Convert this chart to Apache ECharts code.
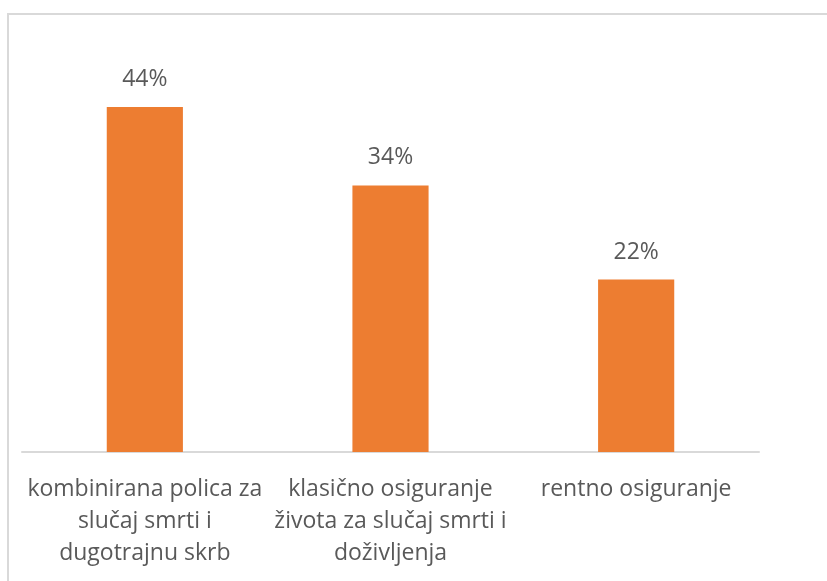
<!DOCTYPE html>
<html>
<head>
<meta charset="utf-8">
<style>
  html, body { margin: 0; padding: 0; background: #fff; }
  #chart { width: 827px; height: 581px; }
</style>
<script src="https://cdn.jsdelivr.net/npm/echarts@6/dist/echarts.min.js"></script>
</head>
<body>
<div id="chart"></div>
<script>
// category names, split the way the original wraps them
const categories = [
  ["kombinirana polica za", "slučaj smrti i", "dugotrajnu skrb"],
  ["klasično osiguranje", "života za slučaj smrti i", "doživljenja"],
  ["rentno osiguranje"],
];
const shares = [44, 34, 22];

const chart = echarts.init(document.getElementById("chart"));

chart.setOption({
  animation: false,
  textStyle: { fontFamily: "Open Sans" },
  graphic: [
    {
      type: "rect",
      shape: { x: 8, y: 14, width: 900, height: 700 },
      style: { fill: "none", stroke: "#d9d9d9", lineWidth: 2 },
      silent: true,
    },
  ],
  grid: {
    left: 22,
    right: 68,
    top: 60,
    bottom: 129,
  },
  xAxis: {
    type: "category",
    data: categories.map((lines) => lines.join("\n")),
    axisLine: { lineStyle: { color: "#d9d9d9", width: 2 } },
    axisTick: { show: false },
    axisLabel: {
      color: "#595959",
      fontSize: 23,
      lineHeight: 32,
      margin: 21,
      interval: 0,
    },
  },
  yAxis: {
    type: "value",
    min: 0,
    max: 50,
    show: false,
  },
  series: [
    {
      type: "bar",
      data: shares,
      barWidth: "31%",
      itemStyle: { color: "#ED7D31" },
      label: {
        show: true,
        position: "top",
        distance: 16,
        color: "#595959",
        fontSize: 23,
        formatter: "{c}%",
      },
    },
  ],
});
</script>
</body>
</html>
